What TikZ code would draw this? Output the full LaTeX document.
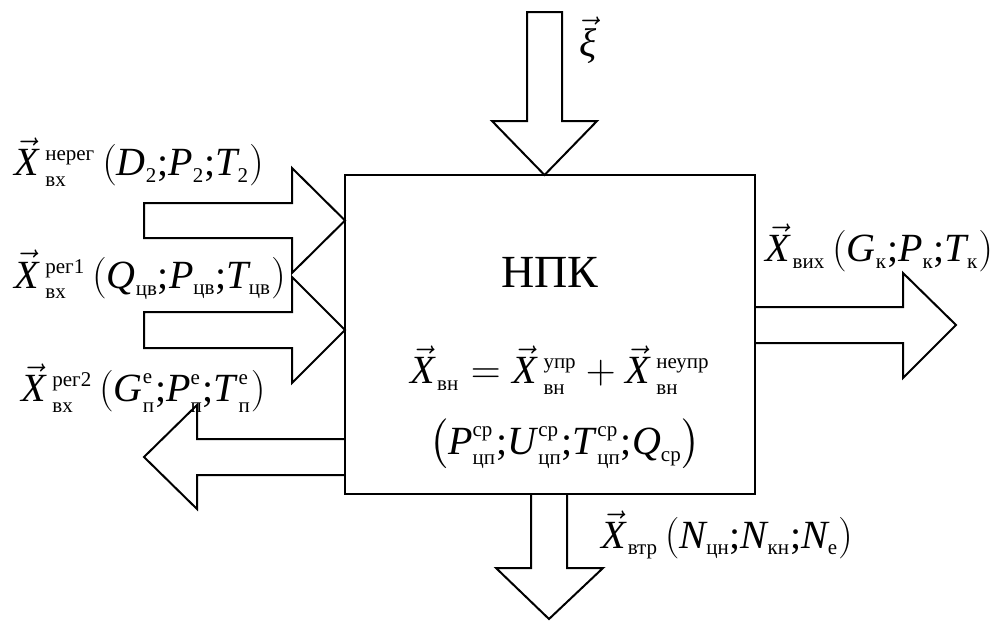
\documentclass[tikz,border=0pt]{standalone}
\usepackage{amsmath}
\usepackage{fontspec}
\setmainfont{Liberation Serif}
\DeclareMathSizes{20}{20}{10.5}{8}
\newcommand{\iv}[1]{\textit{#1}}
\newcommand{\ivc}[1]{\textit{#1\/}}
\newcommand{\cy}[1]{\text{\upshape #1}}
\newcommand{\vX}{\vec{\iv{X}}}
\newcommand{\sm}{\text{;}}

\begin{document}
\begin{tikzpicture}[x=0.5pt, y=-0.5pt, line width=1pt, line join=miter,
  lbl/.style={font=\fontsize{20}{24}\selectfont, inner sep=0pt}]
  \useasboundingbox (0,0) rectangle (999,621);
  % the block
  \node[draw, minimum width=205pt, minimum height=159.5pt, inner sep=0pt] (npk) at (550,334.5) {};
  % block arrows
  \draw (144,203) -- (292,203) -- (292,168) -- (345,220.5) -- (292,273) -- (292,238) -- (144,238) -- cycle;
  \draw (144,312) -- (292,312) -- (292,277) -- (345,330) -- (292,383) -- (292,348) -- (144,348) -- cycle;
  \draw (345,439) -- (197,439) -- (197,405) -- (144,457) -- (197,509) -- (197,475) -- (345,475);
  \draw (527,12) -- (562,12) -- (562,121) -- (597,121) -- (544.5,175) -- (492,121) -- (527,121) -- cycle;
  \draw (755,307) -- (903,307) -- (903,273) -- (956,325) -- (903,378) -- (903,343) -- (755,343);
  \draw (531,494) -- (531,568) -- (496,568) -- (549,619) -- (603,568) -- (567,568) -- (567,494);
  % labels
  \node[font=\fontsize{23}{27}\selectfont, inner sep=0pt] (name) at (550,272) {НПК};
  \node[lbl, anchor=west] (xin1) at (13,162) {$\vX\mkern3mu{}^{\cy{нерег}}_{\cy{вх}}\left(\iv{D}_{\cy{2}}\sm\iv{P}_{\cy{2}}\sm\iv{T}_{\cy{2}}\right)$};
  \node[lbl, anchor=west] (xin2) at (13,275) {$\vX\mkern3mu{}^{\cy{рег1}}_{\cy{вх}}\left(\iv{Q}_{\cy{цв}}\sm\iv{P}_{\cy{цв}}\sm\iv{T}_{\cy{цв}}\right)$};
  \node[lbl, anchor=west] (xin3) at (20,388) {$\vX\mkern3mu{}^{\cy{рег2}}_{\cy{вх}}\left(\ivc{G}^{\cy{е}}_{\cy{п}}\sm\ivc{P}^{\cy{е}}_{\cy{п}}\sm\ivc{T}^{\cy{е}}_{\cy{п}}\right)$};
  \node[lbl] (xi) at (588,40) {$\vec{\iv{ξ}}$};
  \node[lbl, anchor=east] (xout) at (994,248) {$\vX\mkern1mu{}_{\cy{вих}}\left(\iv{G}_{\cy{к}}\sm\iv{P}_{\cy{к}}\sm\iv{T}_{\cy{к}}\right)$};
  \node[lbl] (xvn) at (560,370) {$\vX\mkern1mu{}_{\cy{вн}}=\vX\mkern3mu{}^{\cy{упр}}_{\cy{вн}}+\vX\mkern3mu{}^{\cy{неупр}}_{\cy{вн}}$};
  \node[lbl] (prm) at (565,444) {$\left(\ivc{P}^{\cy{ср}}_{\cy{цп}}\sm\ivc{U}^{\cy{ср}}_{\cy{цп}}\sm\ivc{T}^{\cy{ср}}_{\cy{цп}}\sm\iv{Q}_{\cy{ср}}\right)$};
  \node[lbl, anchor=west] (xtr) at (600,535) {$\vX\mkern1mu{}_{\cy{втр}}\left(\iv{N}_{\cy{цн}}\sm\iv{N}_{\cy{кн}}\sm\iv{N}_{\cy{е}}\right)$};
\end{tikzpicture}
\end{document}
